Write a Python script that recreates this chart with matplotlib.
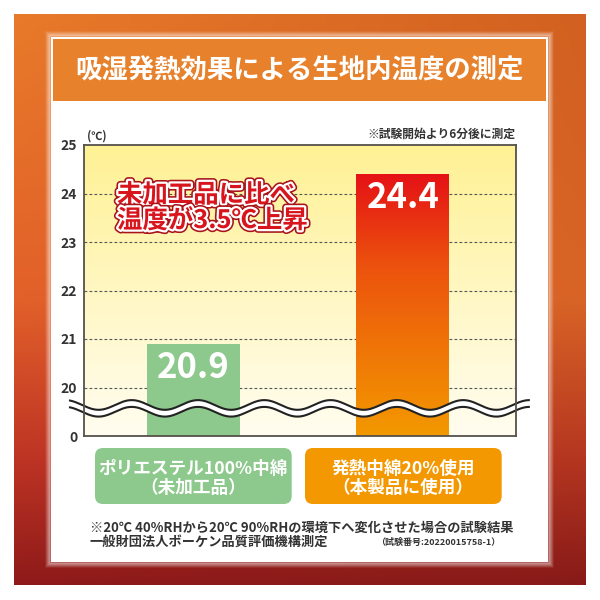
import numpy as np
import matplotlib
matplotlib.use('Agg')
import matplotlib.pyplot as plt
from matplotlib.patches import FancyBboxPatch, Rectangle
import matplotlib.patheffects as pe

plt.rcParams['font.family'] = ['Noto Sans CJK JP', 'DejaVu Sans']

# ---------------- data ----------------
title = '吸湿発熱効果による生地内温度の測定'
categories = ['ポリエステル100%中綿\n（未加工品）', '発熱中綿20%使用\n（本製品に使用）']
values = [20.9, 24.4]
ytick_values = [19, 20, 21, 22, 23, 24, 25]
ytick_labels = ['0', '20', '21', '22', '23', '24', '25']
callout = ['未加工品に比べ', '温度が3.5℃上昇']
unit_label = '(℃)'
note_top = '※試験開始より6分後に測定'
footnote1 = '※20℃ 40%RHから20℃ 90%RHの環境下へ変化させた場合の試験結果'
footnote2 = '一般財団法人ボーケン品質評価機構測定'
test_no = '（試験番号:20220015758-1）'

bar_colors = ['#8dc98d', '#f39800']

# ---------------- figure ----------------
fig = plt.figure(figsize=(6, 6), dpi=100)
fig.patch.set_facecolor('white')
bg = fig.add_axes([0, 0, 1, 1])
bg.set_xlim(0, 600)
bg.set_ylim(600, 0)
bg.axis('off')

# frame gradient
H, W = 200, 200
v = np.linspace(0, 1, H)[:, None]
u = np.linspace(0, 1, W)[None, :]
rows_v = [0.0, 0.5, 0.78, 1.0]
left_c = np.array([[232, 122, 42], [226, 96, 42], [190, 52, 36], [142, 26, 26]], float)
right_c = np.array([[210, 96, 32], [216, 100, 38], [180, 54, 32], [135, 26, 24]], float)
img = np.zeros((H, W, 3))
for k in range(3):
    lc = np.interp(v[:, 0], rows_v, left_c[:, k])[:, None]
    rc = np.interp(v[:, 0], rows_v, right_c[:, k])[:, None]
    img[:, :, k] = lc * (1 - u) + rc * u
bg.imshow(img / 255, extent=(14, 586, 585, 14), aspect='auto', zorder=0, interpolation='bilinear')

# white glow + panel
for i in range(1, 6):
    bg.add_patch(Rectangle((51 - i, 37 - i), 497 + 2 * i, 525 + 2 * i, fill=False,
                           ec='white', lw=1.2, alpha=0.45 * (1 - i / 6), zorder=1))
bg.add_patch(Rectangle((51, 37), 497, 525, fc='white', ec='none', zorder=1))
# title band
bg.add_patch(Rectangle((53, 39), 493, 62, fc='#e8812b', ec='none', zorder=2))
bg.text(299.5, 71, title, ha='center', va='center', fontsize=19, fontweight='bold',
        color='white', zorder=3)

# ---------------- chart axes ----------------
L, T, R, B = 84.3, 145, 516, 436
ax = fig.add_axes([L / 600, (600 - B) / 600, (R - L) / 600, (B - T) / 600])
ax.set_zorder(2)
x = np.arange(len(values))
xl = (-0.519, 1.539)
ax.set_xlim(*xl)
ax.set_ylim(ytick_values[0], ytick_values[-1])

# background gradient
gv = np.linspace(0, 1, 100)[:, None]
top_c = np.array([255, 241, 148]) / 255
bot_c = np.array([255, 253, 240]) / 255
grad = top_c[None, None, :] * (1 - gv[:, :, None]) + bot_c[None, None, :] * gv[:, :, None]
grad = np.repeat(grad, 2, axis=1)
ax.imshow(grad, extent=(xl[0], xl[1], ytick_values[0], ytick_values[-1]),
          aspect='auto', zorder=0, interpolation='bilinear')

# grid
for yv in ytick_values[1:-1]:
    ax.axhline(yv, color='#555555', lw=0.8, ls=(0, (2.5, 2)), zorder=1)

bars = ax.bar(x, values, width=0.443, color=bar_colors, zorder=2)
# orange gradient inside second bar
ov = np.linspace(0, 1, 200)
stops_v = [0.0, 0.35, 1.0]
stops_c = np.array([[229, 18, 22], [236, 82, 14], [243, 153, 0]], float)
og = np.zeros((200, 2, 3))
for k in range(3):
    og[:, :, k] = np.interp(ov, stops_v, stops_c[:, k])[:, None]
b = bars[1]
im = ax.imshow(og / 255, extent=(b.get_x(), b.get_x() + b.get_width(), ytick_values[0], values[1]),
               aspect='auto', zorder=3, interpolation='bilinear')
im.set_clip_path(b)

for xi, val in zip(x, values):
    ax.text(xi, val - 0.48, f'{val}', ha='center', va='center', fontsize=25,
            fontweight='bold', color='white', zorder=4)

# axis break wave
xw = np.linspace(-0.587, 1.60, 600)
period, crest = 0.316, -0.293
yu = 19.64 + 0.10 * np.cos(2 * np.pi * (xw - crest) / period)
yl = yu - 0.14
ax.fill_between(xw, yl, yu, color='white', zorder=5, clip_on=False, lw=0)
ax.plot(xw, yu, color='#222222', lw=1.5, zorder=6, clip_on=False)
ax.plot(xw, yl, color='#222222', lw=1.5, zorder=6, clip_on=False)

for s in ax.spines.values():
    s.set_color('#55504a')
    s.set_linewidth(1.3)
    s.set_zorder(7)
ax.set_xticks([])
ax.set_yticks(ytick_values)
ax.set_yticklabels(ytick_labels, fontweight='bold')
ax.tick_params(axis='y', length=0, pad=5, labelsize=10, labelcolor='#333333')

# ---------------- texts ----------------
bg.text(87, 136, unit_label, ha='left', va='center', fontsize=8, fontweight='bold', color='#333333')
bg.text(515, 134, note_top, ha='right', va='center', fontsize=8.5, fontweight='bold', color='#333333')

fx = [pe.Stroke(linewidth=5.5, foreground='#a8141a'), pe.Stroke(linewidth=3.2, foreground='white'), pe.Normal()]
for i, line in enumerate(callout):
    t = fig.text(117, 195 + 25.5 * i, line, ha='left', va='center', fontsize=18.3,
                 fontweight='bold', color='#d8141c', zorder=10, transform=bg.transData)
    t.set_path_effects(fx)

# category boxes
box_x = [95, 305]
for bx, col, cat in zip(box_x, bar_colors, categories):
    bg.add_patch(FancyBboxPatch((bx, 448), 196.7, 56, boxstyle='round,pad=0,rounding_size=8',
                                fc=col, ec='none', zorder=3))
    l1, l2 = cat.split('\n')
    bg.text(bx + 98.3, 468.5, l1, ha='center', va='center', fontsize=12.7,
            fontweight='bold', color='white', zorder=4)
    bg.text(bx + 98.3, 488, l2, ha='center', va='center', fontsize=12.7,
            fontweight='bold', color='white', zorder=4)

bg.text(90, 528, footnote1, ha='left', va='center', fontsize=9.5, fontweight='bold', color='#333333')
bg.text(90, 542, footnote2, ha='left', va='center', fontsize=9.5, fontweight='bold', color='#333333')
bg.text(500, 542, test_no, ha='right', va='center', fontsize=6.5, fontweight='bold', color='#333333')

fig.savefig('out.png', dpi=100)
